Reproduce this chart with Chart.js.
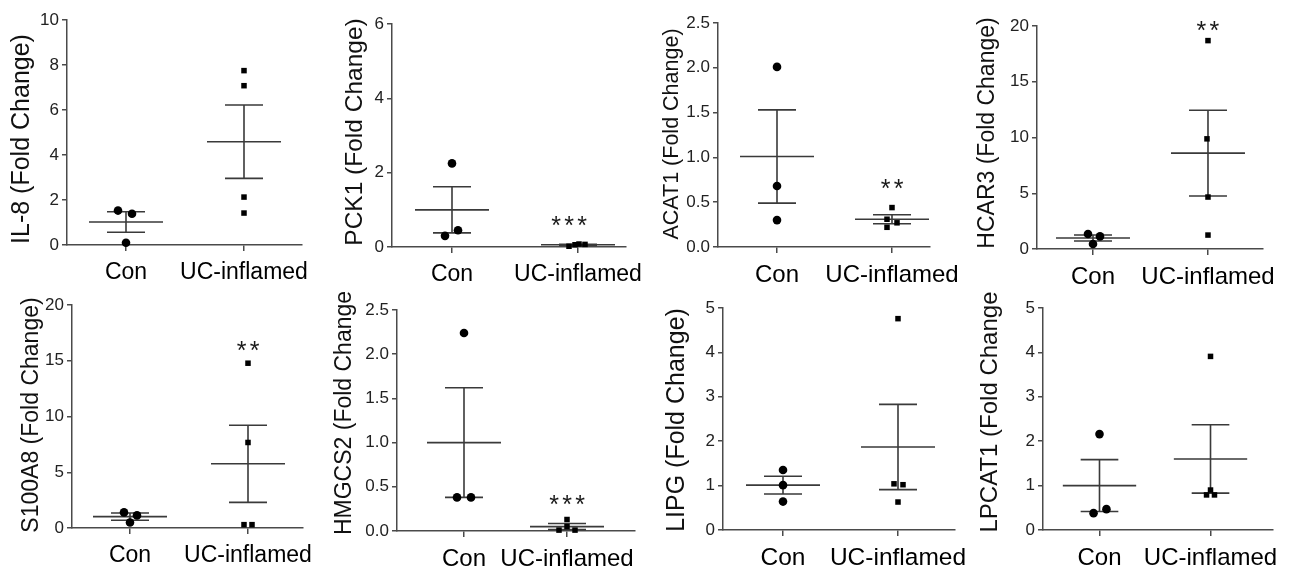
<!DOCTYPE html>
<html><head><meta charset="utf-8">
<script src="https://cdn.jsdelivr.net/npm/chart.js@4"></script>
<style>
html,body{margin:0;padding:0;background:#fff;overflow:hidden;width:1289px;height:566px}
canvas{position:absolute;left:0;top:0}
</style></head>
<body>
<script>
// ---------- DATA ----------
const categories = ['Con', 'UC-inflamed'];
const yTitles = ['IL-8 (Fold Change)', 'PCK1 (Fold Change)', 'ACAT1 (Fold Change)', 'HCAR3 (Fold Change)',
                 'S100A8 (Fold Change)', 'HMGCS2 (Fold Change', 'LIPG (Fold Change)', 'LPCAT1 (Fold Change'];
const yMax  = [10, 6, 2.5, 20, 20, 2.5, 5, 5];
const yStep = [2, 2, 0.5, 5, 5, 0.5, 1, 1];
const tickDecimals = [0, 0, 1, 0, 0, 1, 0, 0];

const conValues = [
  [1.53, 1.39, 0.10],
  [2.25, 0.45, 0.30],
  [2.01, 0.68, 0.30],
  [1.34, 1.13, 0.45],
  [1.40, 1.13, 0.50],
  [2.24, 0.38, 0.38],
  [1.35, 1.01, 0.64],
  [2.16, 0.47, 0.38]
];
const ucValues = [
  [7.75, 7.08, 2.13, 1.42],
  [0.02, 0.06, 0.08, 0.07],
  [0.44, 0.31, 0.27, 0.22],
  [18.69, 9.88, 4.66, 1.25],
  [14.78, 7.67, 0.30, 0.30],
  [0.13, 0.05, 0.01, 0.01],
  [4.76, 1.04, 1.02, 0.63],
  [3.91, 0.90, 0.79, 0.79]
];
const conMean = [1.02, 1.00, 1.01, 0.99, 1.02, 1.00, 1.01, 1.00];
const conSem  = [0.455, 0.62, 0.52, 0.27, 0.32, 0.62, 0.20, 0.585];
const ucMean  = [4.59, 0.06, 0.31, 8.60, 5.76, 0.05, 1.87, 1.60];
const ucSem   = [1.63, 0.015, 0.05, 3.85, 3.46, 0.035, 0.96, 0.77];
const sigLabels = ['', '***', '**', '**', '**', '***', '', ''];
const sigY      = [null, 0.74, 0.72, 20.1, 16.5, 0.366, null, null];

// ---------- LAYOUT / STYLE ----------
const frames = [
  {L:67,  R:302,  T:20,  B:245, c0:126,  c1:244,  tx:22,  ty:139, tf:25,   cf:23},
  {L:392, R:626,  T:24,  B:247, c0:452,  c1:578,  tx:355, ty:132, tf:24.5, cf:23, sdx:-9},
  {L:718, R:930,  T:23,  B:247, c0:777,  c1:892,  tx:672, ty:134, tf:21.5, cf:24},
  {L:1037,R:1263, T:26,  B:249, c0:1093, c1:1208, tx:988, ty:133, tf:23,   cf:24},
  {L:72,  R:303,  T:305, B:528, c0:130,  c1:248,  tx:32,  ty:415, tf:23,   cf:23},
  {L:397, R:635,  T:310, B:531, c0:464,  c1:567,  tx:345, ty:413, tf:23,   cf:24},
  {L:723, R:955,  T:308, B:530, c0:783,  c1:898,  tx:677, ty:420, tf:25,   cf:24.5},
  {L:1043,R:1275, T:308, B:530, c0:1100, c1:1212, tx:990, ty:412, tf:24,   cf:24}
];
const conJitterPx = [[-8,6,0],[0,6,-7],[0,0,0],[-5,7,0],[-6,7,0],[0,-7,7],[0,0,0],[0,7,-6]];
const ucJitterPx  = [[0,0,0,0],[-9,-3,1,7],[0,-5,5,-5],[0,-1,0,0],[0,0,-4,4],[0,0,-8,8],[0,-4,5,0],[0,0,-4,4]];
const W = 1289, H = 566;
const AXIS = '#4a4a4a', BAR = '#3a3a3a';
const FONT = '"Liberation Sans", Arial, sans-serif';
const MEAN_HALF_PX = 37, CAP_HALF_PX = 19;
const Y_SCALE_W = 40, X_SCALE_H = 45;

const annotPlugin = {
  id: 'annot',
  afterDraw(chart, args, opts) {
    const i = opts.index, f = frames[i], ctx = chart.ctx;
    ctx.save();
    ctx.translate(f.tx, f.ty);
    ctx.rotate(-Math.PI / 2);
    ctx.font = f.tf + 'px ' + FONT;
    ctx.fillStyle = '#111';
    ctx.textAlign = 'center';
    ctx.textBaseline = 'middle';
    ctx.fillText(yTitles[i], 0, 0);
    ctx.restore();
    if (sigLabels[i]) {
      const size = 25;
      const x = chart.scales.x.getPixelForValue(1) + (f.sdx || 0);
      const y = chart.scales.y.getPixelForValue(sigY[i]) + 0.58 * size;
      ctx.save();
      ctx.font = size + 'px ' + FONT;
      ctx.fillStyle = '#1a1a1a';
      ctx.textAlign = 'center';
      ctx.textBaseline = 'alphabetic';
      const chars = sigLabels[i].split('');
      const gap = 13;
      chars.forEach((ch, k) => ctx.fillText(ch, x + (k - (chars.length - 1) / 2) * gap, y));
      ctx.restore();
    }
  }
};

function errorBar(center, mean, sem, unit) {
  const mh = MEAN_HALF_PX / unit, ch = CAP_HALF_PX / unit;
  return [
    {x: center - mh, y: mean}, {x: center + mh, y: mean}, {x: center, y: null},
    {x: center - ch, y: mean + sem}, {x: center + ch, y: mean + sem}, {x: center, y: null},
    {x: center - ch, y: mean - sem}, {x: center + ch, y: mean - sem}, {x: center, y: null},
    {x: center, y: mean - sem}, {x: center, y: mean + sem}
  ];
}

frames.forEach((f, i) => {
  const cv = document.createElement('canvas');
  cv.width = W; cv.height = H;
  cv.style.width = W + 'px'; cv.style.height = H + 'px';
  document.body.appendChild(cv);
  const unit = f.c1 - f.c0; // pixels per category step
  const conPts = conValues[i].map((v, k) => ({x: conJitterPx[i][k] / unit, y: v}));
  const ucPts = ucValues[i].map((v, k) => ({x: 1 + ucJitterPx[i][k] / unit, y: v}));
  new Chart(cv, {
    type: 'scatter',
    data: {
      datasets: [
        {data: conPts, pointStyle: 'circle', pointRadius: 4.3, backgroundColor: '#000', borderColor: '#000', borderWidth: 0, clip: false},
        {data: ucPts, pointStyle: 'rect', pointRadius: 3.9, backgroundColor: '#000', borderColor: '#000', borderWidth: 0, clip: false},
        {type: 'line', data: errorBar(0, conMean[i], conSem[i], unit), borderColor: BAR, borderWidth: 1.6, pointRadius: 0, fill: false, spanGaps: false, clip: false, tension: 0},
        {type: 'line', data: errorBar(1, ucMean[i], ucSem[i], unit), borderColor: BAR, borderWidth: 1.6, pointRadius: 0, fill: false, spanGaps: false, clip: false, tension: 0}
      ]
    },
    options: {
      responsive: false,
      animation: false,
      devicePixelRatio: 1,
      events: [],
      layout: {padding: {left: f.L - Y_SCALE_W, top: f.T, right: W - f.R, bottom: H - f.B - X_SCALE_H}},
      plugins: {legend: {display: false}, tooltip: {enabled: false}, annot: {index: i}},
      scales: {
        x: {
          type: 'linear',
          min: (f.L - f.c0) / unit,
          max: (f.R - f.c0) / unit,
          afterBuildTicks: s => { s.ticks = [{value: 0}, {value: 1}]; },
          afterFit: s => { s.height = X_SCALE_H; },
          grid: {drawOnChartArea: false, drawTicks: true, tickLength: 6, color: AXIS, lineWidth: 1.5},
          border: {display: true, color: AXIS, width: 1.5},
          ticks: {autoSkip: false, maxRotation: 0, padding: 8, color: '#000',
                  font: {family: FONT, size: f.cf}, callback: (v, idx) => categories[idx]}
        },
        y: {
          type: 'linear',
          min: 0, max: yMax[i],
          afterFit: s => { s.width = Y_SCALE_W; },
          grid: {drawOnChartArea: false, drawTicks: true, tickLength: 5, color: AXIS, lineWidth: 1.5},
          border: {display: true, color: AXIS, width: 1.5},
          ticks: {stepSize: yStep[i], padding: 3, color: '#222',
                  font: {family: FONT, size: 17},
                  callback: v => Number(v).toFixed(tickDecimals[i])}
        }
      }
    },
    plugins: [annotPlugin]
  });
});
</script>
</body></html>
